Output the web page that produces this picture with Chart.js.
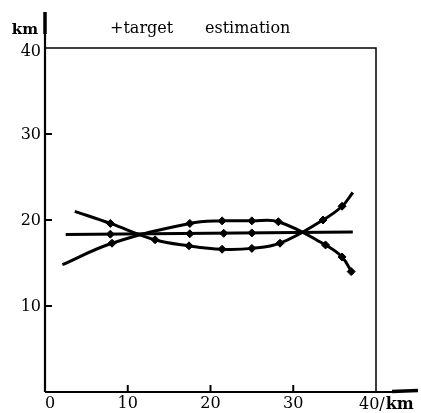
<!DOCTYPE html>
<html>
<head>
<meta charset="utf-8">
<script src="https://cdn.jsdelivr.net/npm/chart.js@4"></script>
<style>
  html, body { margin: 0; padding: 0; background: #fff; }
  #wrap { width: 421px; height: 413px; }
</style>
</head>
<body>
<div id="wrap"><canvas id="chart" width="421" height="413"></canvas></div>
<script>
// Track data (km)
// arch-shaped track: low, high in the middle, low again
const curveAX = [2.1, 8.1, 17.5, 21.4, 25.0, 28.2, 33.9, 35.9, 37.2];
const curveAY = [14.8, 17.3, 19.6, 19.9, 19.9, 19.8, 17.1, 15.7, 13.7];
// bowl-shaped track: high, low in the middle, high again
const curveBX = [3.6, 7.9, 13.3, 17.4, 21.4, 25.0, 28.4, 33.6, 35.9, 37.2];
const curveBY = [21.0, 19.6, 17.7, 17.0, 16.6, 16.7, 17.3, 20.0, 21.6, 23.2];
// straight track
const lineX = [2.5, 37.2];
const lineY = [18.3, 18.6];

// marker points on each track
const markAX = [8.1, 17.5, 21.4, 25.0, 28.2, 33.9, 35.9, 37.0];
const markAY = [17.3, 19.6, 19.9, 19.9, 19.8, 17.1, 15.7, 14.0];
const markBX = [7.9, 13.3, 17.4, 21.4, 25.0, 28.4, 33.6, 35.9];
const markBY = [19.6, 17.7, 17.0, 16.6, 16.7, 17.3, 20.0, 21.6];
const markLX = [7.9, 17.5, 21.6, 25.0];
const markLY = [18.35, 18.4, 18.45, 18.5];

const xTicks = [0, 10, 20, 30, 40];
const yTicks = [10, 20, 30, 40];

const toPts = (xs, ys) => xs.map((x, i) => ({ x: x, y: ys[i] }));

const FONT = "'DejaVu Serif', 'Liberation Serif', serif";

// Axes, ticks and labels drawn in the style of the figure
const axesPlugin = {
  id: 'axesPlugin',
  afterDraw(chart) {
    const ctx = chart.ctx;
    const xs = chart.scales.x;
    const ys = chart.scales.y;
    const l = xs.getPixelForValue(0), r = xs.getPixelForValue(40);
    const b = ys.getPixelForValue(0), t = ys.getPixelForValue(40);
    ctx.save();
    ctx.strokeStyle = '#000';
    ctx.fillStyle = '#000';

    // frame top/right
    ctx.lineWidth = 1.5;
    ctx.beginPath();
    ctx.moveTo(l, t); ctx.lineTo(r, t); ctx.lineTo(r, b);
    ctx.stroke();

    // main axes
    ctx.lineWidth = 2.2;
    ctx.beginPath();
    ctx.moveTo(l, b); ctx.lineTo(r + 16, b);
    ctx.moveTo(l, b); ctx.lineTo(l, t - 14);
    ctx.stroke();
    // arrow ends
    ctx.lineWidth = 3.5;
    ctx.beginPath();
    ctx.moveTo(r + 16, b - 0.5); ctx.lineTo(r + 42, b - 1.5);
    ctx.moveTo(l, t - 14); ctx.lineTo(l, t - 36);
    ctx.stroke();

    // ticks
    ctx.lineWidth = 2;
    ctx.beginPath();
    yTicks.slice(0, -1).forEach(v => {
      const y = ys.getPixelForValue(v);
      ctx.moveTo(l, y); ctx.lineTo(l + 7, y);
    });
    xTicks.slice(1, -1).forEach(v => {
      const x = xs.getPixelForValue(v);
      ctx.moveTo(x, b); ctx.lineTo(x, b - 7);
    });
    ctx.stroke();

    // tick labels
    ctx.font = '16px ' + FONT;
    ctx.textBaseline = 'middle';
    ctx.textAlign = 'right';
    yTicks.forEach(v => {
      const y = ys.getPixelForValue(v);
      ctx.fillText(String(v), l - 4, y + (v === 40 ? 4 : 1));
    });
    ctx.textAlign = 'center';
    xTicks.slice(0, -1).forEach(v => {
      let x = xs.getPixelForValue(v);
      if (v === 0) x += 5;
      ctx.fillText(String(v), x, b + 12);
    });
    ctx.textAlign = 'left';
    const lastLbl = xTicks[xTicks.length - 1] + '/';
    ctx.fillText(lastLbl, r - 17, b + 13);
    const w = ctx.measureText(lastLbl).width;
    ctx.font = 'bold 16px ' + FONT;
    ctx.fillText('km', r - 17 + w + 1, b + 13);
    ctx.font = 'bold 15px ' + FONT;
    ctx.textAlign = 'right';
    ctx.fillText('km', l - 7, t - 18);

    // legend text
    ctx.font = '16px ' + FONT;
    ctx.textAlign = 'left';
    ctx.fillText('+target', 110, t - 19);
    ctx.fillText('estimation', 205, t - 19);
    ctx.restore();
  }
};

const lineSet = (xs, ys) => ({
  data: toPts(xs, ys),
  showLine: true,
  borderColor: '#000',
  borderWidth: 3,
  tension: 0.4,
  pointRadius: 0
});

const markSet = (xs, ys) => ({
  data: toPts(xs, ys),
  showLine: false,
  backgroundColor: '#000',
  borderColor: '#000',
  pointStyle: 'rectRot',
  pointRadius: 4,
  borderWidth: 1
});

new Chart(document.getElementById('chart'), {
  type: 'scatter',
  data: {
    datasets: [
      lineSet(curveAX, curveAY),
      lineSet(curveBX, curveBY),
      Object.assign(lineSet(lineX, lineY), { tension: 0 }),
      markSet(markAX, markAY),
      markSet(markBX, markBY),
      markSet(markLX, markLY)
    ]
  },
  options: {
    responsive: false,
    animation: false,
    layout: { padding: { left: 45, right: 45, top: 48, bottom: 21 } },
    plugins: { legend: { display: false }, tooltip: { enabled: false } },
    scales: {
      x: { type: 'linear', min: 0, max: 40, display: false },
      y: { type: 'linear', min: 0, max: 40, display: false }
    }
  },
  plugins: [axesPlugin]
});
</script>
</body>
</html>
